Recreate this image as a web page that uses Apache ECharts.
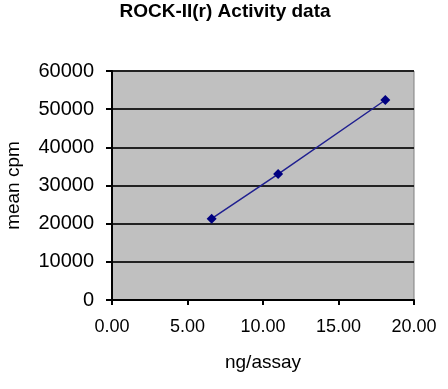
<!DOCTYPE html>
<html>
<head>
<meta charset="utf-8">
<script src="https://cdn.jsdelivr.net/npm/echarts@6/dist/echarts.min.js"></script>
<style>
html,body{margin:0;padding:0;background:#fff;}
#c{width:448px;height:389px;}
</style>
</head>
<body>
<div id="c"></div>
<script>
var titleText = "ROCK-II(r) Activity data";
var xName = "ng/assay";
var yName = "mean cpm";
var xValues = [6.6, 11.0, 18.1];
var yValues = [21300, 33000, 52400];

var data = xValues.map(function (x, i) { return [x, yValues[i]]; });

var chart = echarts.init(document.getElementById('c'), null, {renderer: 'canvas'});
var font = 'Liberation Sans, Arial, sans-serif';
chart.setOption({
  animation: false,
  title: {
    text: titleText,
    left: 225,
    textAlign: 'center',
    top: 2,
    padding: 0,
    textStyle: {fontFamily: font, fontSize: 19, fontWeight: 'bold', color: '#000'}
  },
  grid: {left: 112, right: 34, top: 71, bottom: 89, containLabel: false, outerBoundsMode: 'none', show: true, backgroundColor: '#c0c0c0', borderColor: '#808080', borderWidth: 1},
  xAxis: {
    type: 'value', min: 0, max: 20, interval: 5,
    name: xName, nameLocation: 'middle', nameGap: 53,
    nameTextStyle: {fontFamily: font, fontSize: 19, color: '#000'},
    axisLine: {show: true, onZero: false, lineStyle: {color: '#000', width: 2}},
    axisTick: {show: true, length: 5, lineStyle: {color: '#000', width: 2}},
    axisLabel: {fontFamily: font, fontSize: 18, color: '#000', margin: 18, formatter: function (v) { return v.toFixed(2); }},
    splitLine: {show: false}
  },
  yAxis: {
    type: 'value', min: 0, max: 60000, interval: 10000,
    name: yName, nameLocation: 'middle', nameGap: 89, nameRotate: 90,
    nameTextStyle: {fontFamily: font, fontSize: 19, color: '#000'},
    axisLine: {show: true, onZero: false, lineStyle: {color: '#000', width: 2}},
    axisTick: {show: true, length: 6, lineStyle: {color: '#000', width: 2}},
    axisLabel: {fontFamily: font, fontSize: 20, color: '#000', margin: 18, formatter: function (v) { return String(v); }},
    splitLine: {show: true, lineStyle: {color: '#222', width: 2}}
  },
  series: [{
    type: 'line',
    data: data,
    symbol: 'diamond',
    symbolSize: 10,
    itemStyle: {color: '#000080'},
    lineStyle: {color: '#202090', width: 1.5}
  }]
});
</script>
</body>
</html>
